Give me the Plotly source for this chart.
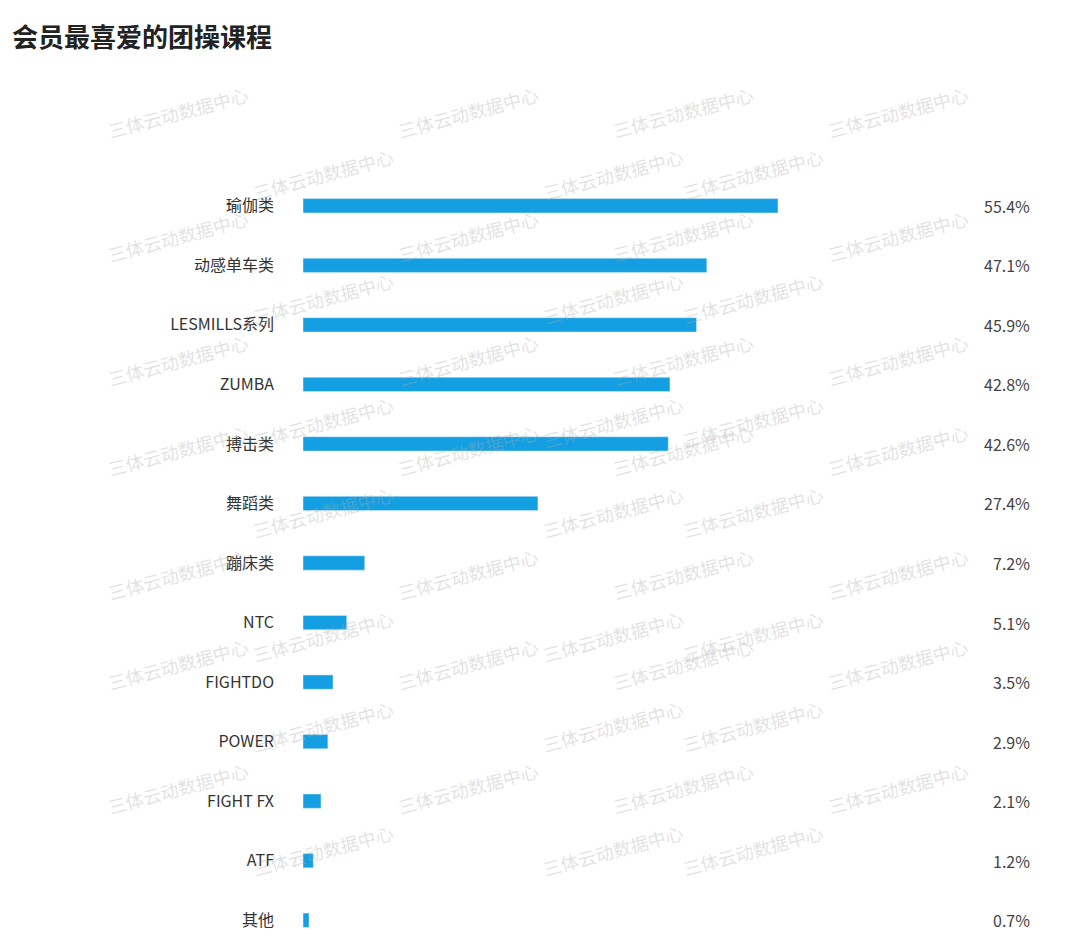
import plotly.graph_objects as go

categories = ["瑜伽类", "动感单车类", "LESMILLS系列", "ZUMBA", "搏击类", "舞蹈类", "蹦床类",
              "NTC", "FIGHTDO", "POWER", "FIGHT FX", "ATF", "其他"]
values = [55.4, 47.1, 45.9, 42.8, 42.6, 27.4, 7.2, 5.1, 3.5, 2.9, 2.1, 1.2, 0.7]
labels = ["55.4%", "47.1%", "45.9%", "42.8%", "42.6%", "27.4%", "7.2%",
          "5.1%", "3.5%", "2.9%", "2.1%", "1.2%", "0.7%"]
watermark = "三体云动数据中心"

FONT = "Noto Sans CJK SC"
W, H = 1080, 950
L, R, T, B = 295, 45, 168, 8
plot_w = W - L - R
plot_h = H - T - B
xmax = plot_w / (475 / 55.4)

fig = go.Figure(go.Bar(
    y=categories, x=values, orientation="h",
    marker=dict(color="#139fe2"), width=0.24, hoverinfo="skip",
))

# value labels at the right edge
for c, t in zip(categories, labels):
    fig.add_annotation(x=(1024 - L) / plot_w, xref="paper", y=c, yref="y",
                       text=t, showarrow=False, xanchor="right",
                       font=dict(size=16, color="#444", family=FONT))

# faint tiled watermark
for row in range(14):
    for col in range(4):
        px = 95 + col * 290 + (row % 2) * 145
        py = 70 + row * 62
        if px > 990:
            continue
        fig.add_annotation(x=(px - L) / plot_w, xref="paper",
                           y=1 - (py - T) / plot_h, yref="paper",
                           text=watermark, showarrow=False, textangle=-15,
                           font=dict(size=18, color="rgba(170,170,170,0.35)", family=FONT))

fig.update_layout(
    width=W, height=H,
    margin=dict(l=L, r=R, t=T, b=B),
    paper_bgcolor="white", plot_bgcolor="white",
    title=dict(text="<b>会员最喜爱的团操课程</b>", x=4 / W, xanchor="left",
               y=1 - 30 / H, yanchor="middle",
               font=dict(size=26, color="#222", family=FONT)),
    xaxis=dict(range=[0, xmax], visible=False),
    yaxis=dict(categoryorder="array", categoryarray=categories[::-1],
               range=[-0.5, len(categories) - 0.5], showgrid=False, zeroline=False,
               showline=False, ticks="", ticklabelstandoff=28,
               tickfont=dict(size=16, color="#333", family=FONT)),
    showlegend=False,
)

fig.write_html("out.html")
